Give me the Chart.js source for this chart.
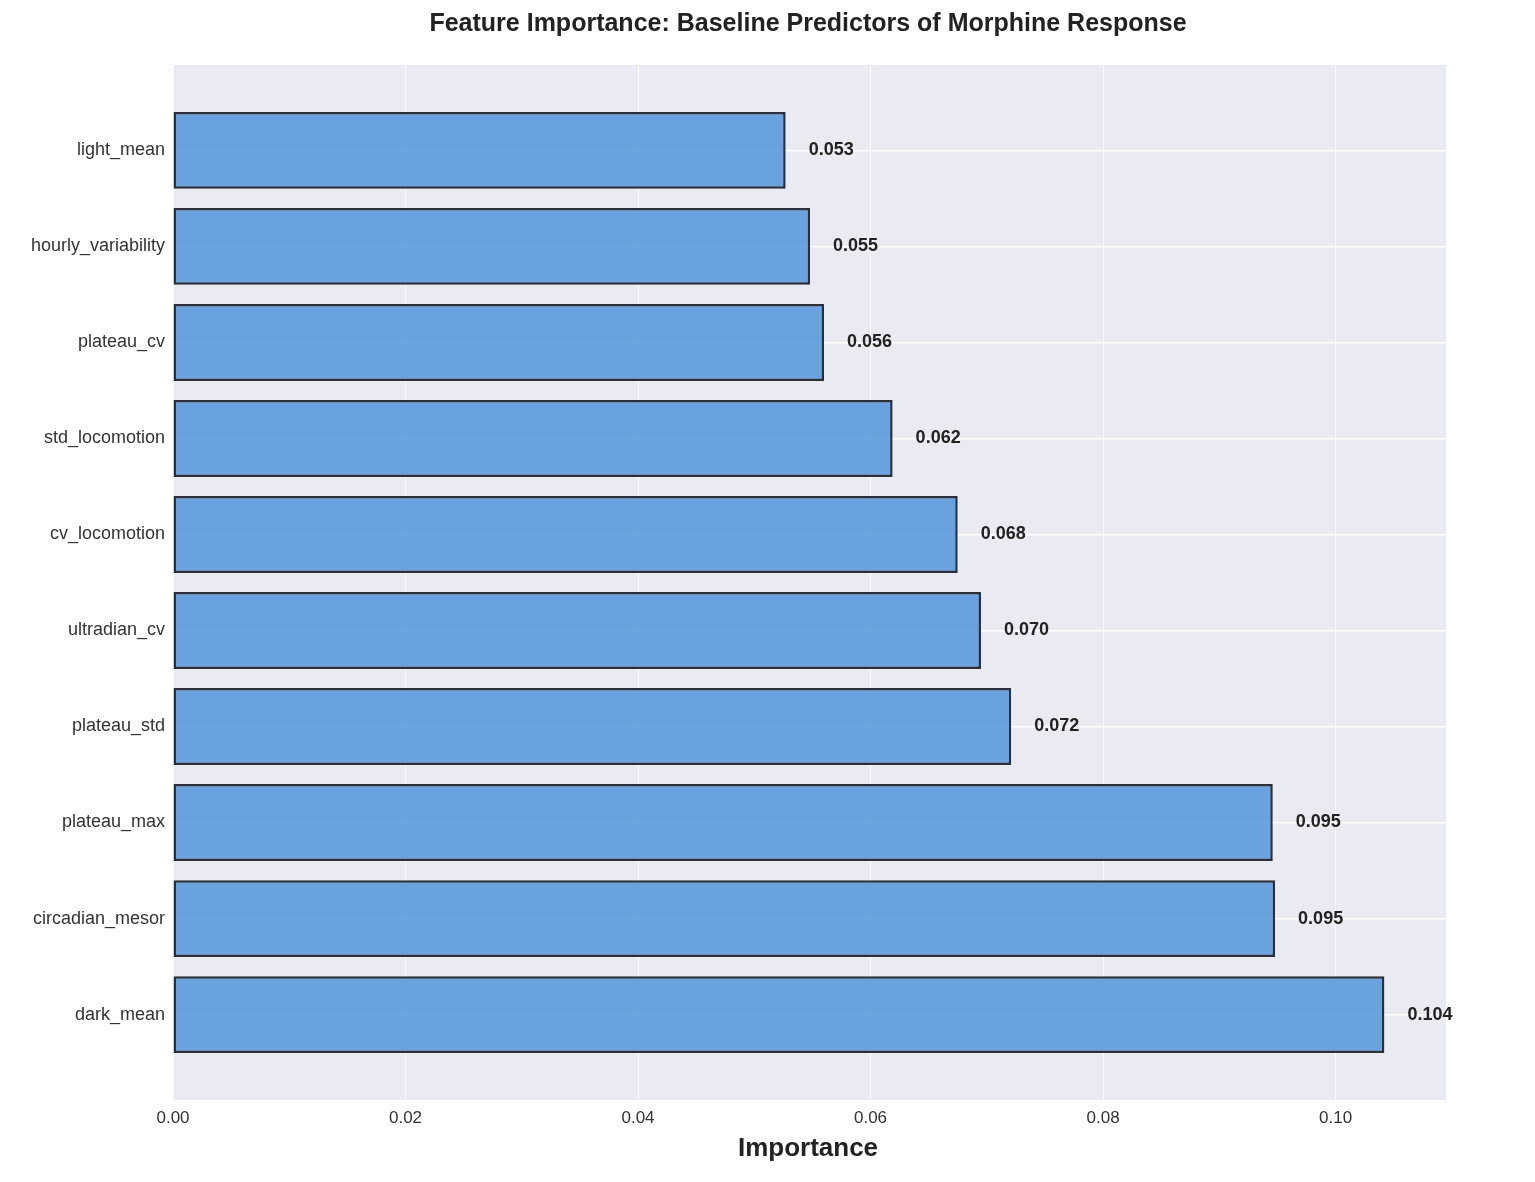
<!DOCTYPE html>
<html><head><meta charset="utf-8">
<script src="https://cdn.jsdelivr.net/npm/chart.js@4/dist/chart.umd.min.js"></script>
<style>html,body{margin:0;padding:0;background:#fff}#c{display:block}</style>
</head><body>
<div style="width:1535px;height:1182px"><canvas id="c"></canvas></div>
<script>
const categories = ["dark_mean","circadian_mesor","plateau_max","plateau_std","ultradian_cv","cv_locomotion","std_locomotion","plateau_cv","hourly_variability","light_mean"];
const importance = [0.1042,0.0948,0.0946,0.0721,0.0695,0.0675,0.0619,0.0560,0.0548,0.0527];
const valueLabels = ["0.104","0.095","0.095","0.072","0.070","0.068","0.062","0.056","0.055","0.053"];
const xTicks = [0,0.02,0.04,0.06,0.08,0.10];

const FONT = "'Liberation Sans', Arial, sans-serif";
const deco = {
  id:'deco',
  beforeDraw(ch){
    const {ctx, chartArea:a} = ch;
    ctx.save(); ctx.fillStyle='#eaeaf2'; ctx.fillRect(a.left,a.top,a.right-a.left,a.bottom-a.top); ctx.restore();
  },
  afterDraw(ch){
    const {ctx} = ch;
    ctx.save();
    ctx.fillStyle='#222'; ctx.textAlign='center'; ctx.textBaseline='middle';
    ctx.font = "bold 25px "+FONT;
    ctx.fillText("Feature Importance: Baseline Predictors of Morphine Response", 808, 24);
    ctx.font = "bold 26px "+FONT;
    ctx.fillText("Importance", 808, 1149);
    ctx.font = "bold 18px "+FONT; ctx.textAlign='left';
    const xs = ch.scales.x, ys = ch.scales.y;
    importance.forEach((v,i)=>{
      ctx.fillText(valueLabels[i], xs.getPixelForValue(v)+23, ys.getPixelForValue(i));
    });
    ctx.restore();
  }
};
new Chart(document.getElementById('c'), {
  type:'bar',
  data:{datasets:[{data:importance.map((v,i)=>({x:v,y:i})),
    backgroundColor:'rgba(74,144,217,0.8)', borderColor:'#2b2f3a', borderWidth:2.5,
    barPercentage:0.8, categoryPercentage:1.0, borderSkipped:false}]},
  options:{
    indexAxis:'y', responsive:true, maintainAspectRatio:false, animation:false,
    layout:{padding:{left:0,right:89,top:65,bottom:0}},
    plugins:{legend:{display:false},tooltip:{enabled:false}},
    scales:{
      x:{type:'linear', min:0, max:0.1095,
        afterBuildTicks(s){s.ticks = xTicks.map(v=>({value:v}));},
        afterFit(s){s.height=82;},
        grid:{color:'rgba(255,255,255,0.8)',lineWidth:1,drawTicks:false}, border:{display:false},
        ticks:{padding:8,color:'#333',font:{size:17,family:FONT},callback:v=>Number(v).toFixed(2)}},
      y:{type:'linear', min:-0.89, max:9.89, offset:false,
        afterBuildTicks(s){s.ticks = categories.map((c,i)=>({value:i}));},
        afterFit(s){s.width=173;},
        grid:{color:'#ffffff',lineWidth:1.5,drawTicks:false,offset:false}, border:{display:false},
        ticks:{padding:8,color:'#333',font:{size:18,family:FONT},callback:v=>categories[v]}}
    }
  },
  plugins:[deco]
});
</script>
</body></html>
